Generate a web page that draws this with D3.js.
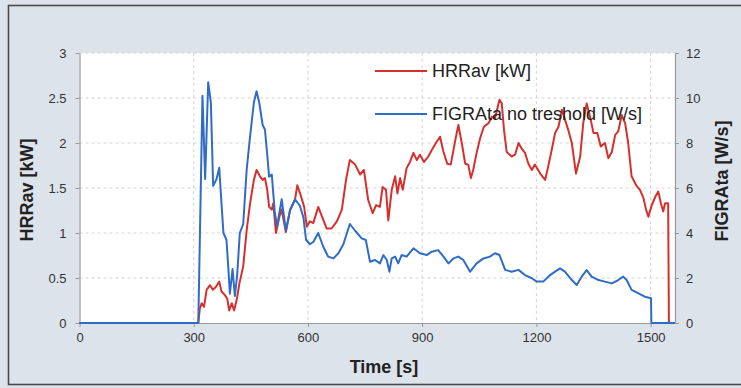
<!DOCTYPE html>
<html>
<head>
<meta charset="utf-8">
<script src="https://cdn.jsdelivr.net/npm/d3@7/dist/d3.min.js"></script>
<style>
  html, body { margin: 0; padding: 0; background: #dde3ea; }
  svg { display: block; font-family: "Liberation Sans", Arial, sans-serif; }
</style>
</head>
<body>
<svg id="chart" width="741" height="388"></svg>
<script>
// Time axis ticks [s]
const timeTicks = [0, 300, 600, 900, 1200, 1500];
const hrrTicks = [0, 0.5, 1, 1.5, 2, 2.5, 3];
const figraTicks = [0, 2, 4, 6, 8, 10, 12];

// HRRav [kW] : [time s, value]
const hrrav = [
  [0, 0], [312, 0], [316, 0.16], [321, 0.22], [327, 0.18], [334, 0.37], [343, 0.42],
  [350, 0.37], [358, 0.40], [367, 0.46], [373, 0.35], [382, 0.31], [388, 0.27],
  [393, 0.14], [400, 0.22], [406, 0.14], [413, 0.26], [420, 0.44], [430, 0.63],
  [439, 1.03], [448, 1.33], [458, 1.59], [465, 1.70], [474, 1.63], [481, 1.59],
  [487, 1.61], [493, 1.48], [498, 1.29], [505, 1.26], [509, 1.33], [516, 1.00],
  [525, 1.18], [531, 1.26], [542, 1.01], [553, 1.26], [566, 1.37], [572, 1.53],
  [581, 1.42], [590, 1.29], [597, 1.07], [605, 1.13], [614, 1.11], [627, 1.29],
  [639, 1.16], [649, 1.05], [662, 1.05], [676, 1.13], [689, 1.26], [700, 1.59],
  [710, 1.81], [724, 1.76], [737, 1.65], [747, 1.70], [758, 1.37], [770, 1.22],
  [779, 1.31], [789, 1.29], [796, 1.51], [805, 1.48], [811, 1.14], [820, 1.48],
  [829, 1.63], [835, 1.44], [842, 1.61], [849, 1.48], [859, 1.72], [868, 1.79],
  [877, 1.89], [886, 1.81], [894, 1.87], [905, 1.79], [916, 1.85], [925, 1.92],
  [936, 2.00], [947, 2.07], [956, 1.90], [966, 1.77], [975, 1.76], [986, 2.01],
  [995, 2.20], [1004, 2.00], [1013, 1.77], [1021, 1.76], [1028, 1.61], [1034, 1.70],
  [1043, 1.89], [1052, 2.05], [1062, 2.18], [1074, 2.22], [1083, 2.29], [1091, 2.27],
  [1103, 2.48], [1109, 2.44], [1115, 2.14], [1122, 1.90], [1135, 1.85], [1144, 1.87],
  [1153, 2.00], [1161, 1.94], [1170, 1.89], [1179, 1.77], [1188, 1.70], [1196, 1.76],
  [1210, 1.66], [1223, 1.59], [1231, 1.74], [1240, 1.92], [1249, 2.11], [1258, 2.18],
  [1267, 2.37], [1275, 2.26], [1284, 2.14], [1293, 2.00], [1304, 1.66], [1315, 1.85],
  [1323, 2.22], [1332, 2.44], [1341, 2.29], [1350, 2.11], [1360, 2.11], [1369, 1.96],
  [1380, 2.00], [1389, 1.83], [1398, 1.90], [1407, 2.09], [1415, 2.13], [1424, 2.31],
  [1433, 2.22], [1441, 2.00], [1450, 1.63], [1462, 1.53], [1472, 1.48], [1481, 1.39],
  [1488, 1.26], [1494, 1.18], [1503, 1.31], [1512, 1.40], [1520, 1.46], [1527, 1.33],
  [1533, 1.24], [1538, 1.33], [1546, 1.33], [1548, 0]
];

// FIGRAta no treshold [W/s] : [time s, value]
const figra = [
  [0, 0], [312, 0], [323, 10.1], [330, 6.4], [338, 10.7], [345, 9.8], [351, 6.1],
  [360, 6.4], [367, 6.9], [373, 5.3], [378, 4.0], [386, 3.7], [391, 2.4], [395, 1.3],
  [402, 2.4], [408, 1.2], [414, 2.1], [421, 4.0], [430, 4.4], [439, 6.8], [448, 8.3],
  [458, 9.8], [465, 10.3], [472, 9.8], [481, 8.8], [487, 8.6], [493, 7.5], [498, 6.5],
  [505, 6.6], [513, 4.9], [519, 4.3], [531, 5.5], [542, 4.1], [553, 5.0], [566, 5.5],
  [579, 5.2], [588, 4.7], [595, 3.7], [605, 3.5], [614, 3.6], [627, 4.0], [640, 3.4],
  [653, 2.95], [667, 2.87], [680, 3.1], [693, 3.5], [710, 4.4], [724, 4.1], [741, 3.76],
  [752, 3.69], [763, 2.72], [776, 2.8], [789, 2.65], [798, 3.02], [807, 2.8],
  [814, 2.28], [820, 2.87], [829, 2.95], [837, 2.65], [846, 3.02], [859, 2.95],
  [877, 3.32], [894, 3.1], [912, 3.02], [925, 3.17], [942, 3.24], [956, 2.95],
  [969, 2.65], [982, 2.87], [995, 2.95], [1008, 2.8], [1026, 2.28], [1043, 2.65],
  [1061, 2.87], [1078, 2.95], [1091, 3.1], [1103, 3.02], [1118, 2.36], [1135, 2.28],
  [1153, 2.36], [1170, 2.13], [1188, 1.99], [1201, 1.84], [1218, 1.84], [1236, 2.13],
  [1249, 2.28], [1262, 2.43], [1275, 2.28], [1293, 1.91], [1306, 1.69], [1319, 2.06],
  [1332, 2.35], [1345, 2.06], [1363, 1.91], [1380, 1.84], [1398, 1.76], [1415, 1.91],
  [1428, 2.06], [1437, 1.91], [1450, 1.47], [1468, 1.32], [1485, 1.17], [1501, 1.1],
  [1502, 0], [1564, 0]
];

const svg = d3.select("#chart");
const W = 741, H = 388;
const plot = { left: 79.5, right: 675, top: 53, bottom: 323 };

// page frame
svg.append("rect").attr("x", 8.5).attr("y", 5.5).attr("width", 760).attr("height", 379)
  .attr("fill", "#dde3ea").attr("stroke", "#4a4a4a").attr("stroke-width", 1.6);

// plot background
svg.append("rect").attr("x", plot.left).attr("y", plot.top)
  .attr("width", plot.right - plot.left).attr("height", plot.bottom - plot.top)
  .attr("fill", "#ffffff");

const x = d3.scaleLinear().domain([0, 1564]).range([plot.left, plot.right]);
const yL = d3.scaleLinear().domain([0, 3]).range([plot.bottom, plot.top]);
const yR = d3.scaleLinear().domain([0, 12]).range([plot.bottom, plot.top]);

// gridlines
const grid = svg.append("g").attr("stroke", "#d4d4d4").attr("stroke-width", 1)
  .attr("stroke-dasharray", "3,3");
grid.selectAll("line.h").data(hrrTicks.filter(d => d > 0)).join("line")
  .attr("x1", plot.left).attr("x2", plot.right)
  .attr("y1", d => yL(d)).attr("y2", d => yL(d));
grid.selectAll("line.v").data(timeTicks.filter(d => d > 0)).join("line")
  .attr("y1", plot.top).attr("y2", plot.bottom)
  .attr("x1", d => x(d)).attr("x2", d => x(d));

// axes
const styleAxis = g => {
  g.select(".domain").attr("stroke", "#9a9a9a").attr("stroke-width", 1.2);
  g.selectAll(".tick line").attr("stroke", "#9a9a9a");
  g.selectAll(".tick text").attr("fill", "#333").attr("font-size", 13)
    .attr("font-family", "'Liberation Sans', Arial, sans-serif");
};

svg.append("g").attr("transform", `translate(${plot.left},0)`)
  .call(d3.axisLeft(yL).tickValues(hrrTicks).tickSize(4).tickSizeOuter(0).tickPadding(9)
    .tickFormat(d => String(d)))
  .call(styleAxis);

svg.append("g").attr("transform", `translate(${plot.right},0)`)
  .call(d3.axisRight(yR).tickValues(figraTicks).tickSize(4).tickSizeOuter(0).tickPadding(7)
    .tickFormat(d => String(d)))
  .call(styleAxis);

svg.append("g").attr("transform", `translate(0,${plot.bottom})`)
  .call(d3.axisBottom(x).tickValues(timeTicks).tickSize(4).tickSizeOuter(0).tickPadding(6)
    .tickFormat(d => String(d)))
  .call(styleAxis);

// series lines
const lineL = d3.line().x(d => x(d[0])).y(d => yL(d[1]));
const lineR = d3.line().x(d => x(d[0])).y(d => yR(d[1]));

svg.append("path").datum(hrrav).attr("d", lineL)
  .attr("fill", "none").attr("stroke", "#d6302e").attr("stroke-width", 2)
  .attr("stroke-linejoin", "round");
svg.append("path").datum(figra).attr("d", lineR)
  .attr("fill", "none").attr("stroke", "#2f6cc6").attr("stroke-width", 2)
  .attr("stroke-linejoin", "round");

// legend
const legend = [
  { label: "HRRav [kW]", color: "#d6302e", y: 71 },
  { label: "FIGRAta no treshold [W/s]", color: "#2f6cc6", y: 114 }
];
const lg = svg.append("g");
legend.forEach(item => {
  lg.append("line").attr("x1", 375).attr("x2", 427).attr("y1", item.y).attr("y2", item.y)
    .attr("stroke", item.color).attr("stroke-width", 2);
  lg.append("text").attr("x", 432).attr("y", item.y).attr("dy", "0.35em")
    .attr("font-size", 18).attr("fill", "#222").text(item.label);
});

// axis titles
svg.append("text").attr("transform", "translate(27,190) rotate(-90)")
  .attr("text-anchor", "middle").attr("dy", "0.35em")
  .attr("font-size", 18).attr("font-weight", "bold").attr("fill", "#222")
  .text("HRRav [kW]");
svg.append("text").attr("transform", "translate(722,181) rotate(-90)")
  .attr("text-anchor", "middle").attr("dy", "0.35em")
  .attr("font-size", 18).attr("font-weight", "bold").attr("fill", "#222")
  .text("FIGRAta [W/s]");
svg.append("text").attr("x", 384).attr("y", 367).attr("dy", "0.35em")
  .attr("text-anchor", "middle")
  .attr("font-size", 18).attr("font-weight", "bold").attr("fill", "#222")
  .text("Time [s]");
</script>
</body>
</html>
